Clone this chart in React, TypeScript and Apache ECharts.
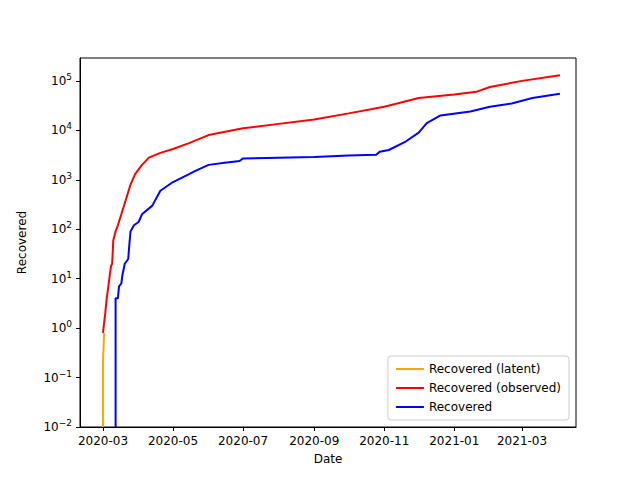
import React, { useEffect, useRef } from "react";
import * as echarts from "echarts";

const latent: [string, number][] = [["2020-03-01", 0.01], ["2020-03-01", 0.2], ["2020-03-02", 0.8]];
const observed: [string, number][] = [
  ["2020-03-01", 0.8], ["2020-03-03", 2], ["2020-03-04", 3.5], ["2020-03-06", 8], ["2020-03-08", 18],
  ["2020-03-09", 20], ["2020-03-10", 60], ["2020-03-12", 90], ["2020-03-14", 120], ["2020-03-17", 200],
  ["2020-03-21", 400], ["2020-03-25", 800], ["2020-03-29", 1300], ["2020-04-04", 2000], ["2020-04-10", 2800],
  ["2020-04-20", 3500], ["2020-05-01", 4200], ["2020-05-15", 5500], ["2020-06-01", 8000], ["2020-07-01", 11000],
  ["2020-08-01", 13500], ["2020-09-01", 16500], ["2020-10-01", 22000], ["2020-11-01", 30000],
  ["2020-12-01", 45000], ["2021-01-01", 53000], ["2021-01-20", 60000], ["2021-02-01", 75000],
  ["2021-03-01", 100000], ["2021-04-03", 130000],
];
const recovered: [string, number][] = [
  ["2020-03-12", 0.01], ["2020-03-12", 4], ["2020-03-14", 4], ["2020-03-15", 7], ["2020-03-17", 8],
  ["2020-03-18", 12], ["2020-03-20", 20], ["2020-03-23", 25], ["2020-03-24", 50], ["2020-03-25", 90],
  ["2020-03-28", 120], ["2020-04-01", 140], ["2020-04-04", 200], ["2020-04-13", 300], ["2020-04-20", 600],
  ["2020-05-01", 900], ["2020-05-15", 1300], ["2020-05-20", 1500], ["2020-06-01", 2000], ["2020-06-15", 2200],
  ["2020-06-28", 2400], ["2020-07-01", 2700], ["2020-09-01", 2900], ["2020-10-01", 3100], ["2020-10-25", 3200],
  ["2020-10-28", 3700], ["2020-11-05", 4000], ["2020-11-20", 6000], ["2020-12-01", 9000], ["2020-12-08", 14000],
  ["2020-12-20", 20000], ["2021-01-15", 24000], ["2021-02-01", 30000], ["2021-02-20", 35000],
  ["2021-03-10", 45000], ["2021-04-03", 55000],
];
const xTicks = ["2020-03-01", "2020-05-01", "2020-07-01", "2020-09-01", "2020-11-01", "2021-01-01", "2021-03-01"];
const yTicks = [0.01, 0.1, 1, 10, 100, 1000, 10000, 100000];

const ts = (d: string) => new Date(d + "T00:00:00").getTime();
const conv = (a: [string, number][]) => a.map(([d, v]) => [ts(d), v]);

export default function App() {
  const ref = useRef<HTMLDivElement>(null);
  useEffect(() => {
    const chart = echarts.init(ref.current!, null, { renderer: "svg" });
    const font = "DejaVu Sans";
    const xVals = xTicks.map(ts);
    chart.setOption({
      animation: false,
      textStyle: { fontFamily: font },
      grid: { left: 80, right: 64, top: 58, bottom: 53, show: true, borderColor: "#000", borderWidth: 1 },
      xAxis: {
        type: "value",
        min: ts("2020-02-10"),
        max: ts("2021-04-17"),
        name: "Date", nameLocation: "middle", nameGap: 26,
        nameTextStyle: { color: "#000", fontSize: 12, fontFamily: font },
        axisLine: { lineStyle: { color: "#000" } },
        axisTick: { customValues: xVals, length: 4, lineStyle: { color: "#000" } },
        axisLabel: {
          customValues: xVals, color: "#000", fontSize: 12, fontFamily: font,
          formatter: (v: number) => { const d = new Date(v); return d.getFullYear() + "-" + String(d.getMonth() + 1).padStart(2, "0"); },
        },
        splitLine: { show: false },
      },
      yAxis: {
        type: "log", logBase: 10, min: 0.01, max: 290000,
        name: "Recovered", nameLocation: "middle", nameGap: 52, nameRotate: 90,
        nameTextStyle: { color: "#000", fontSize: 12, fontFamily: font },
        axisLine: { show: true, lineStyle: { color: "#000" } },
        axisTick: { show: true, customValues: yTicks, length: 4, lineStyle: { color: "#000" } },
        axisLabel: {
          customValues: yTicks, color: "#000", fontFamily: font,
          formatter: (v: number) => "10{s|" + String(Math.round(Math.log10(v))).replace("-", "−") + "}",
          rich: { s: { fontSize: 9, padding: [0, 0, 8, 0], color: "#000", fontFamily: font } },
          fontSize: 12,
        },
        splitLine: { show: false },
      },
      legend: {
        orient: "vertical", right: 71, bottom: 60, backgroundColor: "#fff",
        borderColor: "#ccc", borderWidth: 1, borderRadius: 3, padding: [7, 8],
        itemGap: 7, itemWidth: 28, itemHeight: 2, icon: "rect",
        textStyle: { fontSize: 12, color: "#000", fontFamily: font },
        data: ["Recovered (latent)", "Recovered (observed)", "Recovered"],
      },
      series: [
        { name: "Recovered (latent)", type: "line", data: conv(latent), showSymbol: false, color: "#ffa500", lineStyle: { width: 2 } },
        { name: "Recovered (observed)", type: "line", data: conv(observed), showSymbol: false, color: "#ff0000", lineStyle: { width: 2 } },
        { name: "Recovered", type: "line", data: conv(recovered), showSymbol: false, color: "#0000ff", lineStyle: { width: 2 } },
      ],
    });
    return () => chart.dispose();
  }, []);
  return <div ref={ref} style={{ width: 640, height: 480, position: "absolute", left: 0, top: 0 }} />;
}
